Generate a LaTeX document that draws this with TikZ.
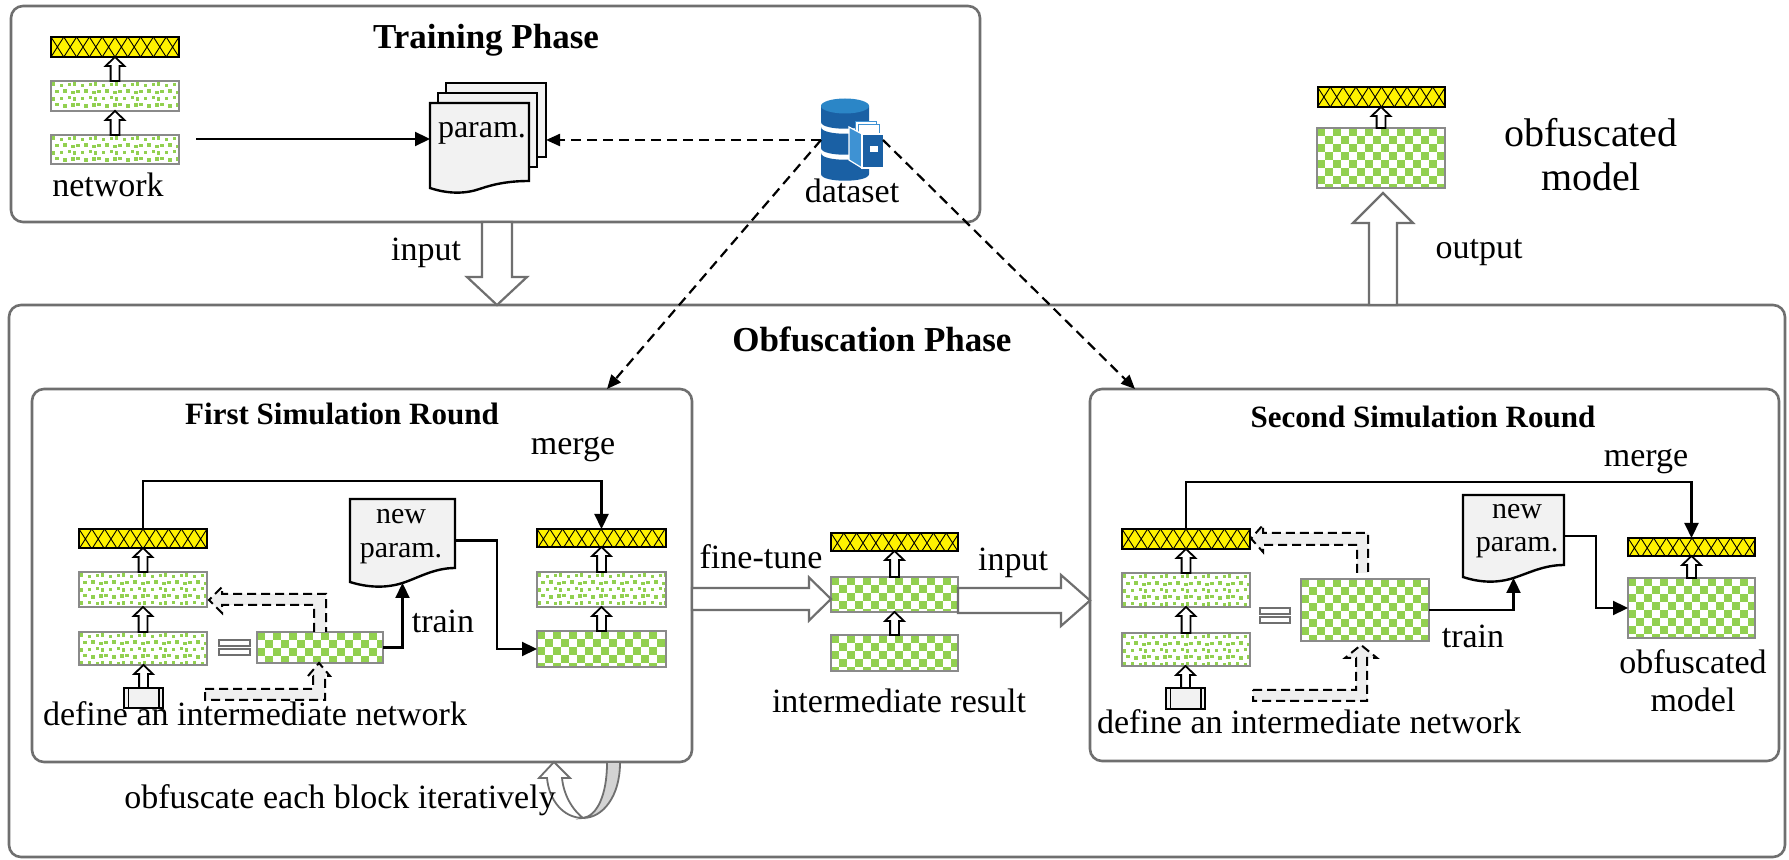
\documentclass[tikz,border=0pt]{standalone}
\usepackage{fontspec}
\setmainfont{Liberation Serif}
\usetikzlibrary{arrows.meta,calc}

\definecolor{lgreen}{HTML}{92D050}
\definecolor{framegray}{HTML}{6F6F6F}
\definecolor{blkgray}{HTML}{8A8A8A}
\definecolor{paper}{HTML}{F2F2F2}
\definecolor{fbfill}{HTML}{EFEFEF}
\definecolor{dbtop}{HTML}{2B86C7}
\definecolor{dbbody}{HTML}{1A60A4}
\definecolor{dbside}{HTML}{3E92D3}
\definecolor{turnback}{HTML}{D3D3D3}

% hollow block arrow running vertically from #2 to #3
% (#4 half shaft, #5 half head, #6 head length)
\newcommand\vblock[6][]{%
  \draw[#1] let \p1=#2, \p2=#3, \n1={sign(\y2-\y1)*#6} in
    ({\x1-#4},\y1) -- ({\x1-#4},{\y2-(\n1)}) -- ({\x1-#5},{\y2-(\n1)}) -- (\x1,\y2)
    -- ({\x1+#5},{\y2-(\n1)}) -- ({\x1+#4},{\y2-(\n1)}) -- ({\x1+#4},\y1) -- cycle;}
% hollow block arrow running horizontally from #2 to #3
\newcommand\hblock[6][]{%
  \draw[#1] let \p1=#2, \p2=#3, \n1={sign(\x2-\x1)*#6} in
    (\x1,{\y1-#4}) -- ({\x2-(\n1)},{\y1-#4}) -- ({\x2-(\n1)},{\y1-#5}) -- (\x2,\y1)
    -- ({\x2-(\n1)},{\y1+#5}) -- ({\x2-(\n1)},{\y1+#4}) -- (\x1,{\y1+#4}) -- cycle;}

\tikzset{
  px/.style 2 args={minimum width={#1*0.5pt}, minimum height={#2*0.5pt}},
  phasebox/.style={draw=framegray, line width=1.3pt, rounded corners=6pt},
  checker/.style={draw=blkgray, line width=1.1pt, fill=white,
    path picture={
      \foreach \jj in {0,...,8}{
        \pgfmathtruncatemacro\off{mod(\jj,2)}
        \foreach \ii in {0,...,8}{
          \pgfmathsetmacro\xa{(2*\ii+\off)*4}
          \pgfmathsetmacro\ya{-\jj*4}
          \fill[lgreen] ([xshift=\xa*1pt, yshift=\ya*1pt]path picture bounding box.north west)
            rectangle ++(4pt,-4pt);
        }}}},
  dotblk/.style={draw=blkgray, line width=1.1pt, fill=white,
    path picture={
      \foreach \jj in {0,...,5}{
        \foreach \ii in {0,...,18}{
          \pgfmathsetmacro\xa{\ii*3.5+mod(\jj,2)*1.75+mod(\ii*7+\jj*3,3)*0.5+0.4}
          \pgfmathsetmacro\ya{-\jj*3.4-0.7-mod(\ii*5+\jj,3)*0.35}
          \fill[lgreen] ([xshift=\xa*1pt, yshift=\ya*1pt]path picture bounding box.north west)
            rectangle ++(1.7pt,-1.7pt);
        }}}},
  yelbar/.style={draw=black, line width=1pt, fill=yellow,
    path picture={
      \foreach \ii in {-1,...,11}{
        \pgfmathsetmacro\xa{\ii*6.4}
        \draw[black, line width=0.45pt]
          ([xshift=\xa*1pt]path picture bounding box.north west) -- ++(6.4pt,-10pt)
          ([xshift=\xa*1pt, yshift=-10pt]path picture bounding box.north west) -- ++(6.4pt,10pt);
      }}},
  inbox/.style={draw=black, line width=1.2pt, fill=paper,
    path picture={
      \draw[black, line width=0.9pt]
        ([xshift=2.2pt]path picture bounding box.north west) -- ([xshift=2.2pt]path picture bounding box.south west)
        ([xshift=-2.2pt]path picture bounding box.north east) -- ([xshift=-2.2pt]path picture bounding box.south east);}},
  eqbar/.style={draw=framegray, line width=1pt, fill=white},
  docfill/.style={draw=black, line width=1.2pt, fill=paper},
  smallarr/.style={draw=black, line width=0.9pt, fill=white},
  bigarr/.style={draw=framegray, line width=1.1pt, fill=white},
  fbarr/.style={draw=black, line width=1pt, dash pattern=on 4.5pt off 2.5pt, fill=fbfill},
  conn/.style={line width=1.1pt, -{Triangle[length=7.5pt,width=7pt]}},
  dconn/.style={line width=1.1pt, dash pattern=on 5pt off 3pt, -{Triangle[length=7pt,width=6pt]}},
  txt/.style={font=\fontsize{17}{20}\selectfont, text height=7.6pt, text depth=0pt},
  bigtxt/.style={font=\fontsize{20}{24}\selectfont, text height=9pt, text depth=0pt},
  doctxt/.style={font=\fontsize{15}{18}\selectfont, text height=6.7pt, text depth=0pt},
  ttl/.style={font=\fontsize{17.5}{20}\selectfont\bfseries, text height=11.6pt, text depth=0pt},
  subttl/.style={font=\fontsize{15.5}{18}\selectfont\bfseries, text height=10.3pt, text depth=0pt},
}

\begin{document}
\begin{tikzpicture}[x=0.5pt, y=-0.5pt, every node/.style={inner sep=0pt, outer sep=0pt}]
\useasboundingbox (0,0) rectangle (1789,860);
\fill[white] (0,0) rectangle (1789,860);

% ---------- phase frames ----------
\node[phasebox, px={1776}{552}] (op) at (897,581) {};
\node[phasebox, px={969}{216}] (tp) at (495.5,114) {};
\node[phasebox, px={660}{373}] (fs) at (362,575.5) {};
\node[phasebox, px={689}{372}] (ss) at (1434.5,575) {};

\node[ttl] (tpt) at (486,36.5) {Training Phase};
\node[ttl] (opt) at (872,339.5) {Obfuscation Phase};
\node[subttl] (fst) at (342,414) {First Simulation Round};
\node[subttl] (sst) at (1423,417.5) {Second Simulation Round};

% ---------- training phase ----------
\node[yelbar, px={128}{20}] (Y0) at (115,47) {};
\node[dotblk, px={128}{30}] (G0a) at (115,96) {};
\node[dotblk, px={128}{29}] (G0b) at (115,149.5) {};
\vblock[smallarr]{(G0a.north)}{(Y0.south)}{2.2pt}{4.7pt}{4.5pt}
\vblock[smallarr]{(G0b.north)}{(G0a.south)}{2.2pt}{4.7pt}{4.5pt}
\node[txt] (netl) at (108,189) {network};

% stacked parameter documents
\filldraw[docfill] (446,83) rectangle (546,157);
\filldraw[docfill] (438,93) rectangle (537,167);
\filldraw[docfill] (430,103) -- (529,103) -- (529,181)
  .. controls (509,181) and (494,184) .. (479.5,189)
  .. controls (465,194) and (448,194) .. (430,188) -- cycle;
\node[px={99}{85}] (P) at (479.5,145.5) {};
\node[px={100}{74}] (P3) at (496,120) {};
\node[doctxt, font=\fontsize{16}{18}\selectfont] (Pt) at (482,131) {param.};

\coordinate (netout) at (196,139);
\draw[conn] (netout) -- (netout -| P.west);

% dataset icon
\node[px={62}{84}] (ds) at (852,140) {};
\fill[dbbody] (821,106) -- (821,122) .. controls (821,131) and (869,131) .. (869,122) -- (869,106) -- cycle;
\fill[dbtop] (845,106) ellipse [x radius=24, y radius=7.5];
\fill[dbbody] (821,127) .. controls (821,136) and (869,136) .. (869,127) -- (869,148)
  .. controls (869,157) and (821,157) .. (821,148) -- cycle;
\fill[dbbody] (821,153) .. controls (821,162) and (869,162) .. (869,153) -- (869,174)
  .. controls (869,183) and (821,183) .. (821,174) -- cycle;
\filldraw[fill=white, draw=dbside, line width=0.4pt] (855,121) rectangle (876,134);
\filldraw[fill=white, draw=dbside, line width=0.4pt] (858,124) rectangle (879,136);
\filldraw[fill=dbside, draw=white, line width=0.6pt] (849,127) -- (862,134) -- (862,168) -- (849,160) -- cycle;
\filldraw[fill=dbbody, draw=white, line width=0.6pt] (862,134) rectangle (884,168);
\fill[white] (870,146) rectangle (878,152);
\node[txt] (dsl) at (852,195) {dataset};

% ---------- phase links ----------
\coordinate (inA) at (497,222);
\vblock[bigarr]{(inA)}{(inA |- op.north)}{7.5pt}{15pt}{14pt}
\node[txt] (inl) at (426,253) {input};

\coordinate (outA) at (1383,305);
\coordinate (outT) at (1383,193);
\vblock[bigarr]{(outA)}{(outT)}{7pt}{15pt}{15pt}
\node[txt] (outl) at (1479,251) {output};

\node[yelbar, px={127}{20}] (YT) at (1381,97) {};
\node[checker, px={128}{60}] (CT) at (1381,158) {};
\vblock[smallarr]{(CT.north)}{(YT.south)}{2.2pt}{4.7pt}{4.5pt}
\node[bigtxt] (objl1) at (1591,138) {obfuscated};
\node[bigtxt] (objl2) at (1591,182) {model};

% ---------- first simulation round ----------
\node[yelbar, px={128}{19}] (Y1) at (143,538.5) {};
\node[dotblk, px={128}{35}] (D1a) at (143,589.5) {};
\node[dotblk, px={128}{33}] (D1b) at (143,648.5) {};
\node[inbox, px={39}{20}] (I1) at (143.5,698) {};
\vblock[smallarr]{(D1a.north)}{(Y1.south)}{2.2pt}{4.7pt}{4.5pt}
\vblock[smallarr]{(D1b.north)}{(D1a.south)}{2.2pt}{4.7pt}{4.5pt}
\vblock[smallarr]{(I1.north)}{(D1b.south)}{2.2pt}{4.7pt}{4.5pt}
\node[eqbar, px={31}{6}] (eq1a) at (234.5,643) {};
\node[eqbar, px={31}{6}] (eq1b) at (234.5,652) {};
\node[checker, px={126}{31}] (C1) at (320,647.5) {};

\node[yelbar, px={129}{18}] (Y1r) at (601.5,538) {};
\node[dotblk, px={129}{35}] (D1r) at (601.5,589.5) {};
\node[checker, px={129}{36}] (C1r) at (601.5,649) {};
\vblock[smallarr]{(D1r.north)}{(Y1r.south)}{2.2pt}{4.7pt}{4.5pt}
\vblock[smallarr]{(C1r.north)}{(D1r.south)}{2.2pt}{4.7pt}{4.5pt}

\filldraw[docfill] (350,499) -- (455,499) -- (455,568)
  .. controls (434,568) and (418,578) .. (402.5,583)
  .. controls (387,588) and (369,588) .. (350,582) -- cycle;
\node[px={105}{83}] (NP1) at (402.5,540.5) {};
\node[doctxt] (NP1a) at (401,517) {new};
\node[doctxt] (NP1b) at (401,551) {param.};

\coordinate (m1) at (400,481);
\draw[conn] (Y1.north) |- (m1) -| (Y1r.north);
\node[txt] (mg1) at (573,447) {merge};
\coordinate (np1b) at (402.5,583);
\draw[conn] (C1.east) -| (np1b);
\node[txt] (tr1) at (443,625) {train};
\coordinate (k1) at (497,600);
\draw[conn] (NP1.east) -| (k1) |- (C1r.west);

\filldraw[fbarr] (314,632) -- (314,605) -- (222,605) -- (222,613) -- (209,600) -- (222,587)
  -- (222,594) -- (326,594) -- (326,632);
\filldraw[fbarr] (205,689) -- (313,689) -- (313,676) -- (308,676) -- (319,663) -- (330,676)
  -- (325,676) -- (325,700) -- (205,700) -- cycle;
\node[txt] (def1) at (255,718) {define an intermediate network};

% iteration loop below the first round
\filldraw[draw=framegray, fill=turnback, line width=0.9pt] (607,763)
  .. controls (607,795) and (597,816) .. (583,818)
  .. controls (603,818) and (620,796) .. (620,763);
\filldraw[draw=framegray, fill=white, line width=0.9pt] (583,818)
  .. controls (563,818) and (549,800) .. (547,778) -- (539,778) -- (554,762) -- (570,778)
  -- (562,778) .. controls (564,798) and (575,812) .. (583,818) -- cycle;
\node[txt] (iter) at (340,801) {obfuscate each block iteratively};

% ---------- intermediate result ----------
\node[yelbar, px={127}{18}] (Yi) at (894.5,542) {};
\node[checker, px={127}{35}] (Ci1) at (894.5,594.5) {};
\node[checker, px={127}{36}] (Ci2) at (894.5,653) {};
\vblock[smallarr]{(Ci1.north)}{(Yi.south)}{2.2pt}{4.7pt}{4.5pt}
\vblock[smallarr]{(Ci2.north)}{(Ci1.south)}{2.2pt}{4.7pt}{4.5pt}
\node[txt] (irl) at (899,705) {intermediate result};

\coordinate (ftA) at (692,599);
\hblock[bigarr]{(ftA)}{(ftA -| Ci1.west)}{5.5pt}{10.75pt}{11pt}
\node[txt] (ftl) at (761,561) {fine-tune};
\coordinate (inB) at (958,600.5);
\hblock[bigarr]{(inB)}{(inB -| ss.west)}{6.25pt}{12.75pt}{14.5pt}
\node[txt] (inl2) at (1013,563) {input};

% ---------- second simulation round ----------
\node[yelbar, px={128}{20}] (Y2) at (1186,539) {};
\node[dotblk, px={128}{34}] (D2a) at (1186,590) {};
\node[dotblk, px={128}{33}] (D2b) at (1186,649.5) {};
\node[inbox, px={39}{21}] (I2) at (1185.5,698.5) {};
\vblock[smallarr]{(D2a.north)}{(Y2.south)}{2.2pt}{4.7pt}{4.5pt}
\vblock[smallarr]{(D2b.north)}{(D2a.south)}{2.2pt}{4.7pt}{4.5pt}
\vblock[smallarr]{(I2.north)}{(D2b.south)}{2.2pt}{4.7pt}{4.5pt}
\node[eqbar, px={30}{6}] (eq2a) at (1275,611) {};
\node[eqbar, px={30}{6}] (eq2b) at (1275,620) {};
\node[checker, px={128}{62}] (C2) at (1365,610) {};

\node[yelbar, px={127}{18}] (Y2r) at (1691.5,547) {};
\node[checker, px={127}{60}] (C2r) at (1691.5,608) {};
\vblock[smallarr]{(C2r.north)}{(Y2r.south)}{2.2pt}{4.7pt}{4.5pt}

\filldraw[docfill] (1463,495) -- (1564,495) -- (1564,565)
  .. controls (1544,565) and (1529,573) .. (1513.5,578)
  .. controls (1498,583) and (1481,583) .. (1463,577) -- cycle;
\node[px={101}{82}] (NP2) at (1513.5,536) {};
\node[doctxt] (NP2a) at (1517,512) {new};
\node[doctxt] (NP2b) at (1517,545) {param.};

\coordinate (m2) at (1400,482);
\draw[conn] (Y2.north) |- (m2) -| (Y2r.north);
\node[txt] (mg2) at (1646,459) {merge};
\coordinate (np2b) at (1513.5,578);
\draw[conn] (C2.east) -| (np2b);
\node[txt] (tr2) at (1473,640) {train};
\coordinate (k2) at (1596,580);
\draw[conn] (NP2.east) -| (k2) |- (C2r.west);
\node[txt] (obl1) at (1693,666) {obfuscated};
\node[txt] (obl2) at (1693,704) {model};

\filldraw[fbarr] (1357,573) -- (1357,545) -- (1263,545) -- (1263,552) -- (1251,538.5) -- (1263,525)
  -- (1263,533) -- (1368,533) -- (1368,573);
\filldraw[fbarr] (1253,690) -- (1356,690) -- (1356,658) -- (1345,658) -- (1361,645) -- (1377,658)
  -- (1367,658) -- (1367,701) -- (1253,701) -- cycle;
\node[txt] (def2) at (1309,726) {define an intermediate network};

% ---------- dataset links ----------
\coordinate (fsin) at (607,389);
\coordinate (ssin) at (1135,389);
\draw[dconn] (ds.west) -- (ds.west -| P3.east);
\draw[dconn] (ds.west) -- (fsin);
\draw[dconn] (ds.east) -- (ssin);
\end{tikzpicture}
\end{document}
